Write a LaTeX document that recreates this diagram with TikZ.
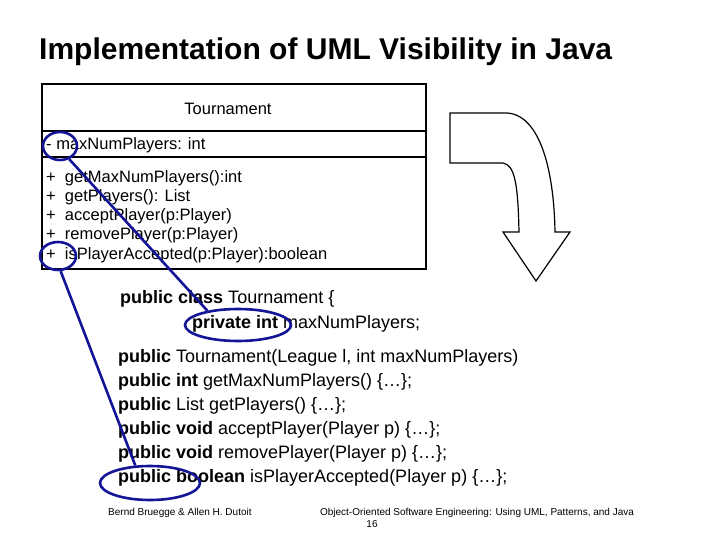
\documentclass[tikz,border=0pt]{standalone}
\usepackage{fontspec}
\setmainfont{Liberation Sans}
\usetikzlibrary{shapes.geometric}
\begin{document}
\begin{tikzpicture}[x=1pt,y=-1pt,
  uml/.style={anchor=west,inner sep=0pt,font=\fontsize{16.5}{18}\selectfont},
  code/.style={anchor=west,inner sep=0pt,font=\fontsize{18}{20}\selectfont},
  hl/.style={draw={rgb,255:red,20;green,20;blue,150},line width=2.6pt},
  foot/.style={inner sep=0pt,font=\fontsize{10}{11}\selectfont}]
\useasboundingbox (0,0) rectangle (720,540);
\node[anchor=west,inner sep=0pt,font=\bfseries\fontsize{30}{32}\selectfont] (title) at (39,52) {Implementation of UML Visibility in Java};
% class box
\draw[line width=1.6pt] (42,84) rectangle (426,269);
\draw[line width=1.6pt] (42,131) -- (426,131);
\draw[line width=1.6pt] (42,157) -- (426,157);
\node[inner sep=0pt,font=\fontsize{16.5}{18}\selectfont] (name) at (228,109) {Tournament};
\node[uml] (attr) at (46,145) {- maxNumPlayers: int};
\node[uml] (m1) at (46,178) {+ \ getMaxNumPlayers():int};
\node[uml] (m2) at (46,197) {+ \ getPlayers(): List};
\node[uml] (m3) at (46,216) {+ \ acceptPlayer(p:Player)};
\node[uml] (m4) at (46,235) {+ \ removePlayer(p:Player)};
\node[uml] (m5) at (46,255) {+ \ isPlayerAccepted(p:Player):boolean};
% curved arrow
\draw[line width=1.2pt,fill=white] (450,113) -- (507,113)
  .. controls (540,115) and (554,170) .. (555,232) -- (570,232) -- (536,281) -- (503,232) -- (519,232)
  .. controls (518,185) and (515,165) .. (503,163) -- (450,163) -- cycle;
% code
\node[code] (c1) at (120,299) {\textbf{public class} Tournament \{};
\node[code] (c2) at (192,324) {\textbf{private int} maxNumPlayers;};
\node[code] (c3) at (118,358) {\textbf{public} Tournament(League l, int maxNumPlayers)};
\node[code] (c4) at (118,382) {\textbf{public int} getMaxNumPlayers() \{…\};};
\node[code] (c5) at (118,406) {\textbf{public} List getPlayers() \{…\};};
\node[code] (c6) at (118,430) {\textbf{public void} acceptPlayer(Player p) \{…\};};
\node[code] (c7) at (118,454) {\textbf{public void} removePlayer(Player p) \{…\};};
\node[code] (c8) at (118,478) {\textbf{public boolean} isPlayerAccepted(Player p) \{…\};};
% marks
\node[hl,ellipse,minimum width=34pt,minimum height=28pt,inner sep=0pt] (e1) at (60,146) {};
\node[hl,ellipse,minimum width=36pt,minimum height=28pt,inner sep=0pt] (e2) at (58,256) {};
\node[hl,ellipse,minimum width=106pt,minimum height=32pt,inner sep=0pt] (e3) at (238,325) {};
\node[hl,ellipse,minimum width=100pt,minimum height=34pt,inner sep=0pt] (e4) at (150,483) {};
\draw[hl] (e1.-55) -- (e3.155);
\draw[hl] (e2.-80) -- (e4.130);
% footer
\node[foot,anchor=west] (f1) at (108,513) {Bernd Bruegge \& Allen H. Dutoit};
\node[foot] (f2) at (477,513) {Object-Oriented Software Engineering: Using UML, Patterns, and Java};
\node[foot] (f3) at (372,524) {16};
\end{tikzpicture}
\end{document}
